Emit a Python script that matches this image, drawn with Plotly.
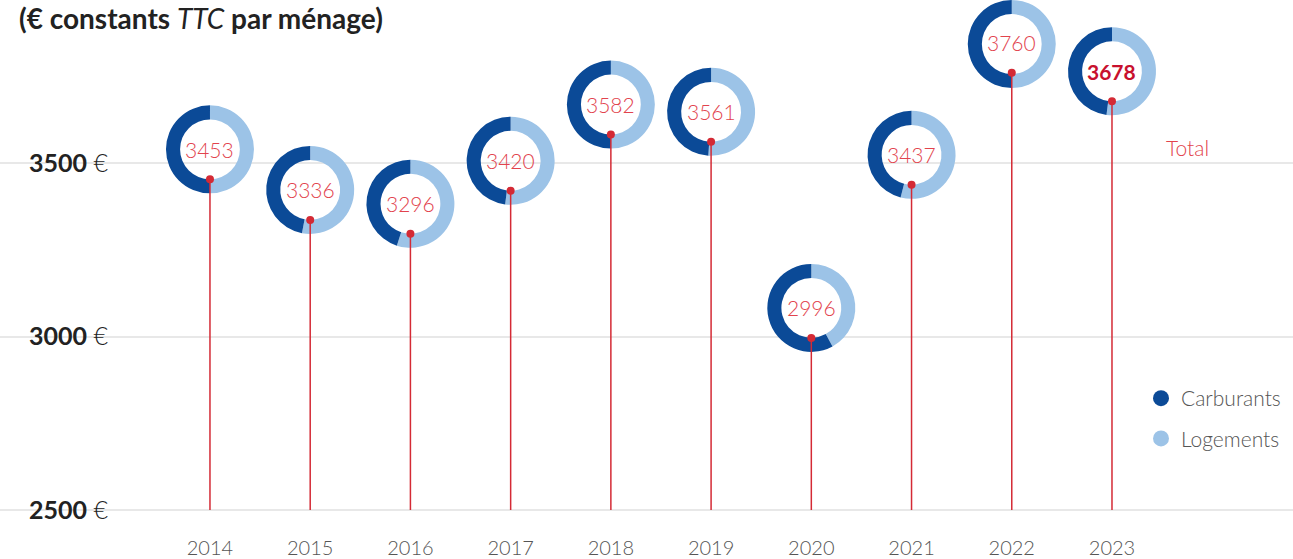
import plotly.graph_objects as go

# ---- data -----------------------------------------------------------------
years = [2014, 2015, 2016, 2017, 2018, 2019, 2020, 2021, 2022, 2023]
totals = [3453, 3336, 3296, 3420, 3582, 3561, 2996, 3437, 3760, 3678]
logements_pct = [50, 53, 55, 52, 50, 51, 42, 54, 50, 52]
carburants_pct = [50, 47, 45, 48, 50, 49, 58, 46, 50, 48]
y_ticks = [2500, 3000, 3500]
y_tick_values = ["2500", "3000", "3500"]

# ---- style ------------------------------------------------------------------
W, H = 1293, 559
MARGIN = dict(l=0, r=0, t=0, b=29)
PLOT_W = W - MARGIN["l"] - MARGIN["r"]
PLOT_H = H - MARGIN["t"] - MARGIN["b"]
X_RANGE = [2011.905, 2024.806]
Y_RANGE = [2442.4, 3969.7]

DARK = "#0b4a97"
LIGHT = "#9cc3e7"
RED = "#d42a35"
RED_TXT = "#e2434d"
GRID = "#e8e8e8"
FONT = "Lato"

R_OUT = 44      # outer ring radius, px
HOLE = 0.68     # inner / outer radius
LIFT = 30       # ring centre sits this many px above the value point

fig = go.Figure()


def frac_x(v):
    return (v - X_RANGE[0]) / (X_RANGE[1] - X_RANGE[0])


def frac_y(v):
    return (v - Y_RANGE[0]) / (Y_RANGE[1] - Y_RANGE[0])


# donut per year: Logements clockwise from 12 o'clock, Carburants after it
for yr, tot, lg, cb in zip(years, totals, logements_pct, carburants_pct):
    cx = frac_x(yr)
    cy = frac_y(tot) + LIFT / PLOT_H
    dx = R_OUT / PLOT_W
    dy = R_OUT / PLOT_H
    y0, y1 = cy - dy, cy + dy
    if y1 > 1:
        y0, y1 = y0 - (y1 - 1), 1
    fig.add_trace(go.Pie(
        values=[lg, cb],
        labels=["Logements", "Carburants"],
        marker=dict(colors=[LIGHT, DARK], line=dict(width=0)),
        hole=HOLE,
        sort=False,
        direction="clockwise",
        rotation=0,
        textinfo="none",
        textposition="none",
        hoverinfo="skip",
        showlegend=False,
        domain=dict(x=[cx - dx, cx + dx], y=[y0, y1]),
    ))

# empty cartesian traces carry the legend and bind the axes
fig.add_trace(go.Scatter(
    x=[None], y=[None], mode="markers", name="Carburants",
    marker=dict(color=DARK, size=18), legendgroup="c",
))
fig.add_trace(go.Scatter(
    x=[None], y=[None], mode="markers", name="Logements",
    marker=dict(color=LIGHT, size=18), legendgroup="l",
))

# stems and end points, above the rings
shapes = []
for yr, tot in zip(years, totals):
    shapes.append(dict(
        type="line", xref="x", yref="y", x0=yr, x1=yr, y0=y_ticks[0], y1=tot,
        line=dict(color=RED, width=1.5), layer="above",
    ))
    shapes.append(dict(
        type="circle", xref="x", yref="y", xsizemode="pixel", ysizemode="pixel",
        xanchor=yr, yanchor=tot, x0=-4, x1=4, y0=-4, y1=4,
        fillcolor=RED, line=dict(width=0), layer="above",
    ))

annotations = []
for yr, tot in zip(years, totals):
    last = yr == years[-1]
    annotations.append(dict(
        x=yr, y=tot, xref="x", yref="y", yshift=LIFT,
        text=f"<b>{tot}</b>" if last else str(tot),
        showarrow=False,
        font=dict(family=FONT, size=21, color="#c8102e" if last else RED_TXT,
                  weight=700 if last else 300),
    ))

annotations.append(dict(
    x=17 / W, y=1, xref="paper", yref="paper", xanchor="left", yanchor="top",
    yshift=1,
    text="<b>(€ constants </b><i>TTC</i><b> par ménage)</b>",
    showarrow=False, font=dict(family=FONT, size=28, color="#222222"),
))
annotations.append(dict(
    x=1187 / W, y=3545, xref="paper", yref="y", xanchor="center",
    text="Total", showarrow=False,
    font=dict(family=FONT, size=21, color=RED_TXT, weight=300),
))

y_tick_labels = [f'<b>{v}</b> <span style="font-weight:300">€</span>'
                 for v in y_tick_values]

fig.update_layout(
    width=W, height=H,
    margin=MARGIN,
    paper_bgcolor="white", plot_bgcolor="white",
    shapes=shapes,
    annotations=annotations,
    showlegend=True,
    legend=dict(
        x=1141 / W, y=1 - 378 / PLOT_H, xanchor="left", yanchor="top",
        font=dict(family=FONT, size=21, color="#555555", weight=300),
        tracegroupgap=10, bgcolor="rgba(0,0,0,0)",
    ),
    xaxis=dict(
        range=X_RANGE, tickvals=years, ticktext=[str(y) for y in years],
        showgrid=False, zeroline=False, showline=False, ticks="",
        ticklabelstandoff=4,
        tickfont=dict(family=FONT, size=20, color="#555555", weight=300),
        fixedrange=True,
    ),
    yaxis=dict(
        range=Y_RANGE, tickvals=y_ticks, ticktext=y_tick_labels,
        showgrid=True, gridcolor=GRID, gridwidth=1.5,
        zeroline=False, showline=False, ticks="",
        ticklabelposition="inside", ticklabelstandoff=26,
        tickfont=dict(family=FONT, size=25, color="#222222"),
        fixedrange=True,
    ),
)

fig.write_html("out.html")
